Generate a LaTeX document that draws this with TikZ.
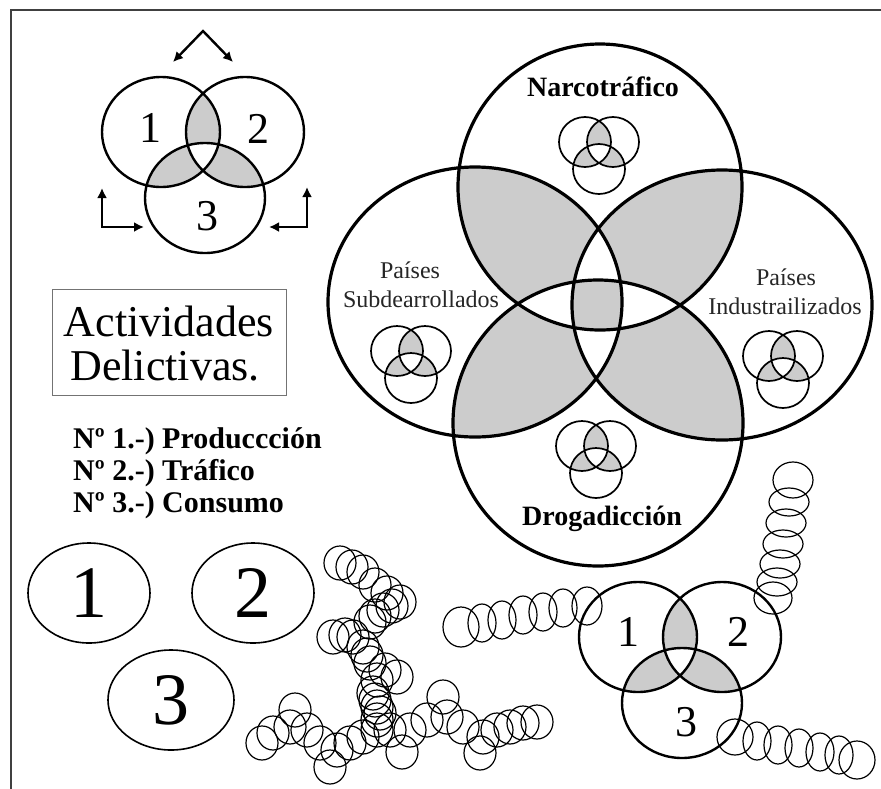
\documentclass[tikz,border=0pt]{standalone}
\usepackage{fontspec}
\setmainfont{Liberation Serif}
\usetikzlibrary{arrows.meta,shapes.geometric}
\tikzset{
  vgray/.style={fill=black!20},
  bigring/.style={draw=black, line width=3.2pt},
  midring/.style={draw=black, line width=2.4pt},
  miniring/.style={draw=black, line width=1.7pt},
  link/.style={draw=black, line width=1.2pt},
  oval/.style={ellipse, draw=black, line width=1.6pt, inner sep=0pt, minimum width=122pt, minimum height=100pt, font=\fontsize{74}{74}\selectfont},
  lbl/.style={inner sep=0pt, anchor=base},
  boldlbl/.style={lbl, font=\bfseries\fontsize{28}{30}\selectfont},
  pais/.style={lbl, text=black!85, font=\fontsize{24}{26}\selectfont},
  listline/.style={inner sep=0pt, anchor=base west, font=\bfseries\fontsize{30}{32}\selectfont},
  digit/.style={inner sep=0pt, font=\fontsize{44}{44}\selectfont},
  arr/.style={line width=2.4pt, {Latex[length=10pt,width=10pt]}-{Latex[length=10pt,width=10pt]}}
}
\newcommand\bvT{(600,187) ellipse [x radius=142, y radius=143]}
\newcommand\bvB{(598,423) ellipse [x radius=145, y radius=143]}
\newcommand\bvL{(475,302) ellipse [x radius=147, y radius=135]}
\newcommand\bvR{(722,305) ellipse [x radius=150, y radius=135]}
% small three-set diagram, #1,#2 = centre of set 1
\newcommand\minivenn[2]{%
\begin{scope}[shift={(#1,#2)}]
 \begin{scope}\clip (0,0) ellipse [x radius=26, y radius=25];
   \fill[vgray] (28,0) ellipse [x radius=26, y radius=25];
   \fill[vgray] (14,27) ellipse [x radius=26, y radius=25]; \end{scope}
 \begin{scope}\clip (28,0) ellipse [x radius=26, y radius=25];
   \fill[vgray] (14,27) ellipse [x radius=26, y radius=25]; \end{scope}
 \begin{scope}\clip (0,0) ellipse [x radius=26, y radius=25];
   \clip (28,0) ellipse [x radius=26, y radius=25];
   \fill[white] (14,27) ellipse [x radius=26, y radius=25]; \end{scope}
 \draw[miniring] (0,0) ellipse [x radius=26, y radius=25]
   (28,0) ellipse [x radius=26, y radius=25]
   (14,27) ellipse [x radius=26, y radius=25];
\end{scope}}
% medium three-set diagram, #1,#2 = centre of set 1
\newcommand\midvenn[2]{%
\begin{scope}[shift={(#1,#2)}]
 \begin{scope}\clip (0,0) ellipse [x radius=59, y radius=55];
   \fill[vgray] (84,0) ellipse [x radius=59, y radius=55];
   \fill[vgray] (44,66) ellipse [x radius=60, y radius=55]; \end{scope}
 \begin{scope}\clip (84,0) ellipse [x radius=59, y radius=55];
   \fill[vgray] (44,66) ellipse [x radius=60, y radius=55]; \end{scope}
 \begin{scope}\clip (0,0) ellipse [x radius=59, y radius=55];
   \clip (84,0) ellipse [x radius=59, y radius=55];
   \fill[white] (44,66) ellipse [x radius=60, y radius=55]; \end{scope}
 \draw[midring] (0,0) ellipse [x radius=59, y radius=55]
   (84,0) ellipse [x radius=59, y radius=55]
   (44,66) ellipse [x radius=60, y radius=55];
\end{scope}}
\begin{document}
\begin{tikzpicture}[x=1pt,y=-1pt]
\useasboundingbox (0,0) rectangle (881,788);
\fill[white] (0,0) rectangle (881,788);
% frame
\draw[black!75, line width=2pt] (11,790) -- (11,10) -- (883,10);

% ---- big four-set diagram ----
\begin{scope}\clip\bvT; \fill[vgray]\bvL; \fill[vgray]\bvR; \end{scope}
\begin{scope}\clip\bvB; \fill[vgray]\bvL; \fill[vgray]\bvR; \end{scope}
\begin{scope}\clip\bvT; \fill[white]\bvB; \end{scope}
\begin{scope}\clip\bvL; \fill[white]\bvR; \end{scope}
\begin{scope}\clip\bvT; \clip\bvB; \clip\bvL; \fill[vgray]\bvR; \end{scope}
\draw[bigring] \bvT \bvB \bvL \bvR;

\minivenn{585}{142}
\minivenn{397}{351}
\minivenn{769}{356}
\minivenn{582}{446}

\node[boldlbl] (narco) at (603,96) {Narcotráfico};
\node[boldlbl] (droga) at (602,525) {Drogadicción};
\node[pais] (pl1) at (410,278) {Países};
\node[pais] (pl2) at (421,307) {Subdearrollados};
\node[pais] (pr1) at (786,285) {Países};
\node[pais] (pr2) at (785,314) {Industrailizados};

% ---- top-left three-set diagram ----
\midvenn{161}{132}
\node[digit] (tl1) at (150,128) {1};
\node[digit] (tl2) at (258,129) {2};
\node[digit] (tl3) at (207,216) {3};
\coordinate (apk) at (203,31);
\coordinate (al) at (173,62);
\coordinate (ar) at (233,62);
\draw[arr] (al) -- (apk) -- (ar);
\coordinate (lc) at (102,227);
\coordinate (lu) at (102,188);
\coordinate (lr) at (144,227);
\draw[arr] (lu) -- (lc) -- (lr);
\coordinate (rc) at (307,227);
\coordinate (ru) at (307,187);
\coordinate (rl) at (269,227);
\draw[arr] (ru) -- (rc) -- (rl);

% ---- title box and list ----
\node[draw=black!55, line width=1.1pt, anchor=north west, minimum width=234pt, minimum height=106pt, inner sep=0pt] (box) at (52,289) {};
\node[lbl, font=\fontsize{44}{44}\selectfont] (t1) at (169,336) {Actividades};
\node[lbl, font=\fontsize{44}{44}\selectfont] (t2) at (165,380) {Delictivas.};
\node[listline] (n1) at (73,448) {Nº 1.-) Produccción};
\node[listline] (n2) at (73,480) {Nº 2.-) Tráfico};
\node[listline] (n3) at (73,512) {Nº 3.-) Consumo};

% ---- separate sets ----
\node[oval] (o1) at (89,593) {1};
\node[oval] (o2) at (253,593) {2};
\node[oval, minimum width=126pt] (o3) at (171,700) {3};

% ---- bottom-right three-set diagram ----
\midvenn{638}{637}
\node[digit] (br1) at (628,632) {1};
\node[digit] (br2) at (738,632) {2};
\node[digit] (br3) at (686,722) {3};

% ---- chains of rings ----
\draw[link] (461,627) ellipse [x radius=18, y radius=20];
\foreach \x/\y in {482/623, 502/620, 523/615, 543/612, 563/608}
  \draw[link] (\x,\y) ellipse [x radius=14, y radius=19];
\draw[link] (587,606) ellipse [x radius=15, y radius=19];

\draw[link] (793,480) ellipse [x radius=20, y radius=18];
\foreach \x/\y in {789/502, 786/523, 783/544, 780/564, 777/582}
  \draw[link] (\x,\y) ellipse [x radius=20, y radius=14];
\draw[link] (773,598) ellipse [x radius=19, y radius=16];

\draw[link] (735,737) ellipse [x radius=18, y radius=18];
\foreach \x/\y in {757/741, 778/745, 799/748, 820/752, 839/755}
  \draw[link] (\x,\y) ellipse [x radius=14, y radius=19];
\draw[link] (857,760) ellipse [x radius=18, y radius=19];

\foreach \x/\y in {340/563, 352/567, 363/572, 375/585, 387/593, 400/602, 392/606,
  383/610, 375/616, 370/622, 333/637, 345/635, 353/637, 363/647, 367/655, 370/663,
  385/670, 397/677, 377/680, 373/693, 375/700, 377/707, 380/713, 377/720,
  262/743, 273/733, 295/710, 290/727, 307/730, 320/743, 330/767, 337/750, 350/743,
  363/737, 377/730, 390/730, 402/752, 410/730, 427/720, 443/697, 447/717, 463/727,
  480/753, 483/737, 497/730, 510/727, 523/723, 537/722}
  \draw[link] (\x,\y) ellipse [x radius=16, y radius=17];
\end{tikzpicture}
\end{document}
